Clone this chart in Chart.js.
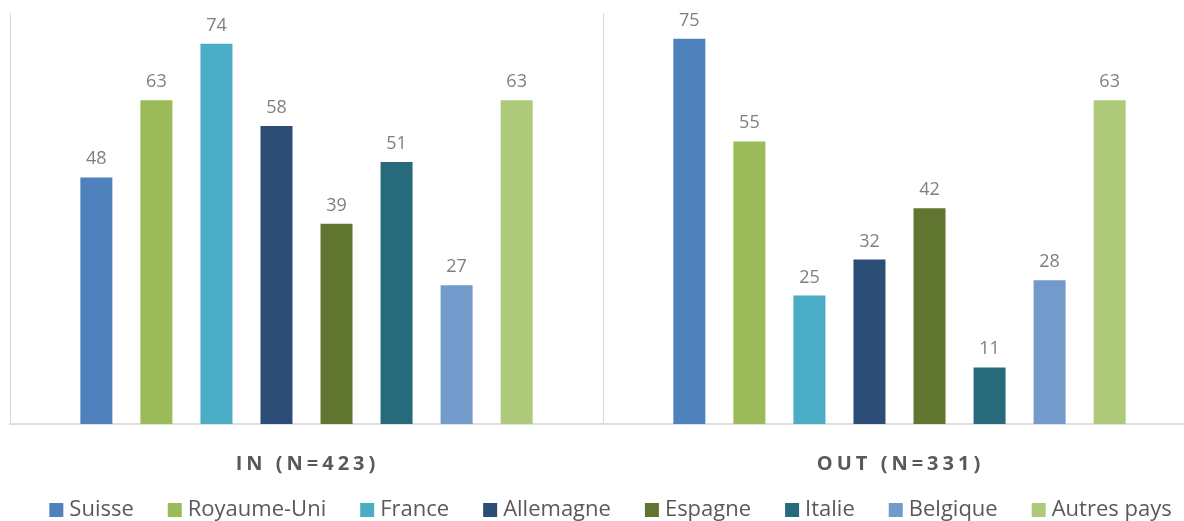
<!DOCTYPE html>
<html>
<head>
<meta charset="utf-8">
<script src="https://cdn.jsdelivr.net/npm/chart.js@4/dist/chart.umd.min.js"></script>
<style>
  html, body { margin: 0; padding: 0; background: #fff; overflow: hidden; }
  #wrap { width: 1226px; height: 531px; }
</style>
</head>
<body>
<div id="wrap"><canvas id="bar-chart"></canvas></div>
<script>
const groups = ['IN (N=423)', 'OUT (N=331)']
const countries = ['Suisse', 'Royaume-Uni', 'France', 'Allemagne', 'Espagne', 'Italie', 'Belgique', 'Autres pays']
const colors = ['#4F81BD', '#9BBB59', '#4BACC6', '#2C4D75', '#5F7530', '#276A7C', '#729ACA', '#AFC97A']
const valuesIn = [48, 63, 74, 58, 39, 51, 27, 63]
const valuesOut = [75, 55, 25, 32, 42, 11, 28, 63]

const font = "'Open Sans', sans-serif"

// value labels above each bar
const valueLabels = {
  id: 'valueLabels',
  afterDatasetsDraw(chart) {
    const c = chart.ctx
    c.save()
    c.font = '18px ' + font
    c.fillStyle = '#7f7f7f'
    c.textAlign = 'center'
    c.textBaseline = 'alphabetic'
    chart.data.datasets.forEach((ds, i) => {
      chart.getDatasetMeta(i).data.forEach((bar, j) => {
        c.fillText(ds.data[j], bar.x, bar.y - 13)
      })
    })
    c.restore()
  },
}

// spaced bold category labels
const groupLabels = {
  id: 'groupLabels',
  afterDraw(chart) {
    const c = chart.ctx
    const x = chart.scales.x
    c.save()
    c.font = 'bold 20px ' + font
    c.fillStyle = '#595959'
    c.textAlign = 'center'
    c.textBaseline = 'middle'
    c.letterSpacing = '4px'
    groups.forEach((g, i) => {
      c.fillText(g, x.getPixelForTick(i) + 1, 464)
    })
    c.restore()
  },
}

new Chart(document.getElementById('bar-chart'), {
  type: 'bar',
  data: {
    labels: groups,
    datasets: countries.map((name, i) => ({
      label: name,
      data: [valuesIn[i], valuesOut[i]],
      backgroundColor: colors[i],
      categoryPercentage: 0.81,
      barPercentage: 0.533,
    })),
  },
  plugins: [valueLabels, groupLabels],
  options: {
    responsive: true,
    maintainAspectRatio: false,
    animation: false,
    layout: {
      padding: { left: 0, top: 13, right: 0, bottom: 0 },
    },
    scales: {
      x: {
        grid: {
          color: '#d9d9d9',
          lineWidth: 1,
          drawTicks: false,
        },
        border: { color: '#dedede', width: 2 },
        ticks: { display: false },
        afterFit: (s) => { s.height = 36 },
      },
      y: {
        min: 0,
        max: 80,
        grid: { display: false },
        border: { display: false },
        ticks: { display: false },
        afterFit: (s) => { s.width = 10 },
      },
      y2: {
        position: 'right',
        min: 0,
        max: 80,
        grid: { display: false },
        border: { display: false },
        ticks: { display: false },
        afterFit: (s) => { s.width = 30 },
      },
    },
    plugins: {
      legend: {
        position: 'bottom',
        labels: {
          usePointStyle: true,
          pointStyle: 'rect',
          boxWidth: 4,
          boxHeight: 14,
          padding: 39,
          color: '#595959',
          font: { size: 22, family: font },
        },
      },
      tooltip: { enabled: false },
    },
  },
})
</script>
</body>
</html>
